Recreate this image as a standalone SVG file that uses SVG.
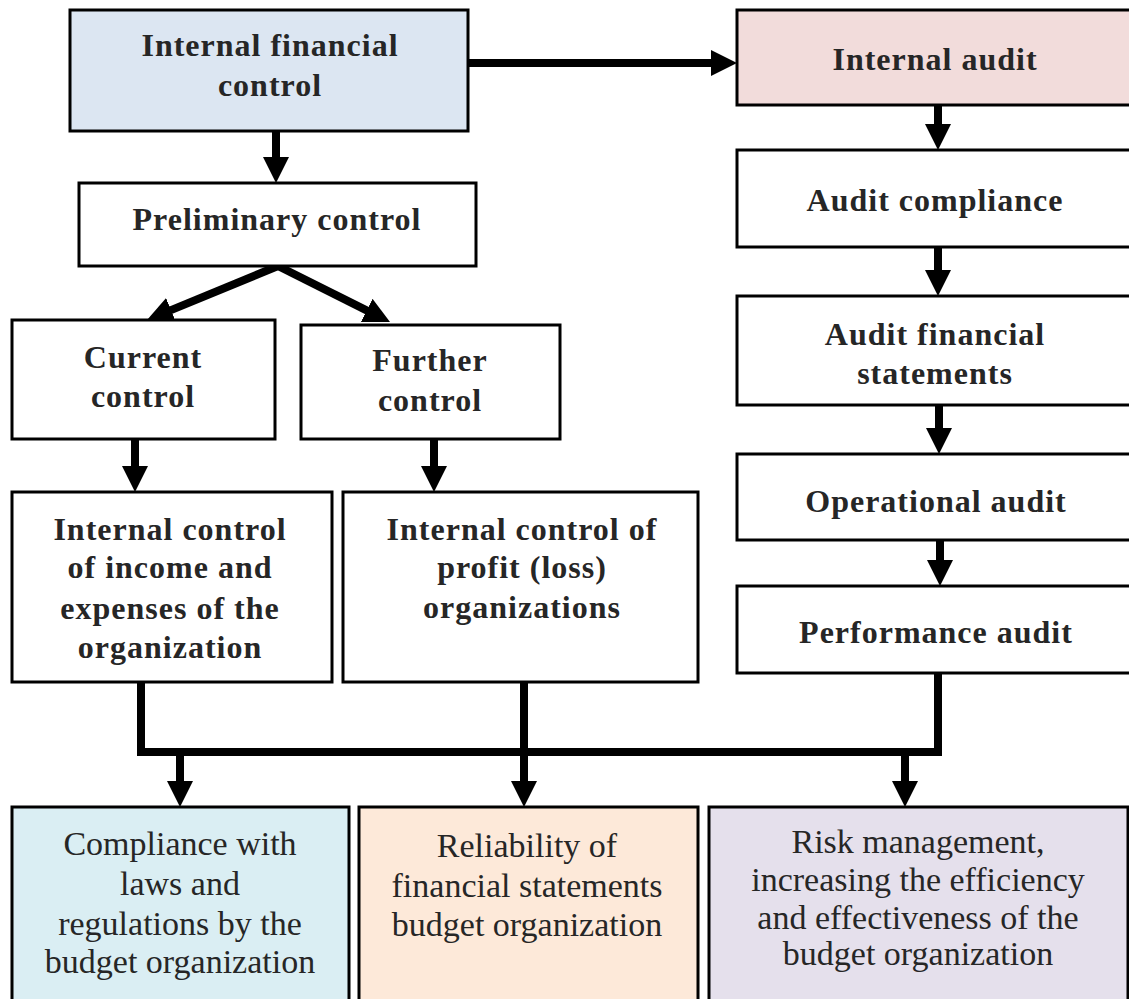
<svg xmlns="http://www.w3.org/2000/svg" width="1129" height="999" viewBox="0 0 1129 999">
<style>
.box{stroke:#000;stroke-width:3}
.w{fill:#fff}
.b{font-family:"Liberation Serif","Times New Roman",serif;font-weight:bold;font-size:32px;letter-spacing:1px;fill:#262626;text-anchor:middle}
.r{font-family:"Liberation Serif","Times New Roman",serif;font-size:34px;fill:#262626;text-anchor:middle}
.c{stroke:#000;stroke-width:8;fill:none}
.a{marker-end:url(#ah)}
</style>
<defs>
<marker id="ah" markerUnits="userSpaceOnUse" markerWidth="26" markerHeight="26" refX="6" refY="13" orient="auto">
<path d="M0,0 L26,13 L0,26 z" fill="#000"/>
</marker>
</defs>
<rect width="1129" height="999" fill="#fff"/>
<g id="connectors">
<path class="c a" d="M468,63 H717" stroke-width="9"/>
<path class="c a" d="M276,131 V163"/>
<path class="c a" d="M278,266 L165.5,312.4"/>
<path class="c a" d="M278,266 L372.1,313.1"/>
<path class="c a" d="M938,105 V130"/>
<path class="c a" d="M938,247 V276"/>
<path class="c a" d="M939,405 V434"/>
<path class="c a" d="M940,540 V566"/>
<path class="c a" d="M135,439 V472"/>
<path class="c a" d="M434,439 V472"/>
<path class="c" d="M141,683 V752 H938 V673"/>
<path class="c a" d="M524,683 V787"/>
<path class="c a" d="M180,752 V787"/>
<path class="c a" d="M905,752 V787"/>
</g>
<g id="internal-financial-control">
<rect class="box" x="70" y="10" width="398" height="121" fill="#dce6f2"/>
<text class="b" x="270" y="56">Internal financial</text>
<text class="b" x="270" y="96">control</text>
</g>
<g id="preliminary-control">
<rect class="box w" x="79" y="183" width="397" height="83"/>
<text class="b" x="277" y="230">Preliminary control</text>
</g>
<g id="current-control">
<rect class="box w" x="12" y="320" width="263" height="119"/>
<text class="b" x="143" y="368">Current</text>
<text class="b" x="143" y="407">control</text>
</g>
<g id="further-control">
<rect class="box w" x="301" y="325" width="259" height="114"/>
<text class="b" x="430" y="371">Further</text>
<text class="b" x="430" y="411">control</text>
</g>
<g id="internal-control-income">
<rect class="box w" x="12" y="492" width="320" height="190"/>
<text class="b" x="170" y="540">Internal control</text>
<text class="b" x="170" y="578">of income and</text>
<text class="b" x="170" y="619">expenses of the</text>
<text class="b" x="170" y="658">organization</text>
</g>
<g id="internal-control-profit">
<rect class="box w" x="343" y="492" width="355" height="190"/>
<text class="b" x="522" y="540">Internal control of</text>
<text class="b" x="522" y="578">profit (loss)</text>
<text class="b" x="522" y="618">organizations</text>
</g>
<g id="internal-audit">
<rect class="box" x="737" y="10" width="400" height="95" fill="#f2dcdb"/>
<text class="b" x="935" y="70">Internal audit</text>
</g>
<g id="audit-compliance">
<rect class="box w" x="737" y="150" width="400" height="97"/>
<text class="b" x="935" y="211">Audit compliance</text>
</g>
<g id="audit-financial-statements">
<rect class="box w" x="737" y="296" width="400" height="109"/>
<text class="b" x="935" y="345">Audit financial</text>
<text class="b" x="935" y="384">statements</text>
</g>
<g id="operational-audit">
<rect class="box w" x="737" y="454" width="400" height="86"/>
<text class="b" x="936" y="512">Operational audit</text>
</g>
<g id="performance-audit">
<rect class="box w" x="737" y="586" width="400" height="87"/>
<text class="b" x="936" y="643">Performance audit</text>
</g>
<g id="compliance">
<rect class="box" x="12" y="807" width="337" height="200" fill="#daeef3"/>
<text class="r" x="180" y="855">Compliance with</text>
<text class="r" x="180" y="895">laws and</text>
<text class="r" x="180" y="935">regulations by the</text>
<text class="r" x="180" y="973">budget organization</text>
</g>
<g id="reliability">
<rect class="box" x="359" y="807" width="339" height="200" fill="#fde9d9"/>
<text class="r" x="527" y="857">Reliability of</text>
<text class="r" x="527" y="897">financial statements</text>
<text class="r" x="527" y="936">budget organization</text>
</g>
<g id="risk-management">
<rect class="box" x="709" y="807" width="419" height="200" fill="#e5e0ec"/>
<text class="r" x="918" y="853">Risk management,</text>
<text class="r" x="918" y="891">increasing  the efficiency</text>
<text class="r" x="918" y="929">and effectiveness  of the</text>
<text class="r" x="918" y="965">budget organization</text>
</g>
</svg>
